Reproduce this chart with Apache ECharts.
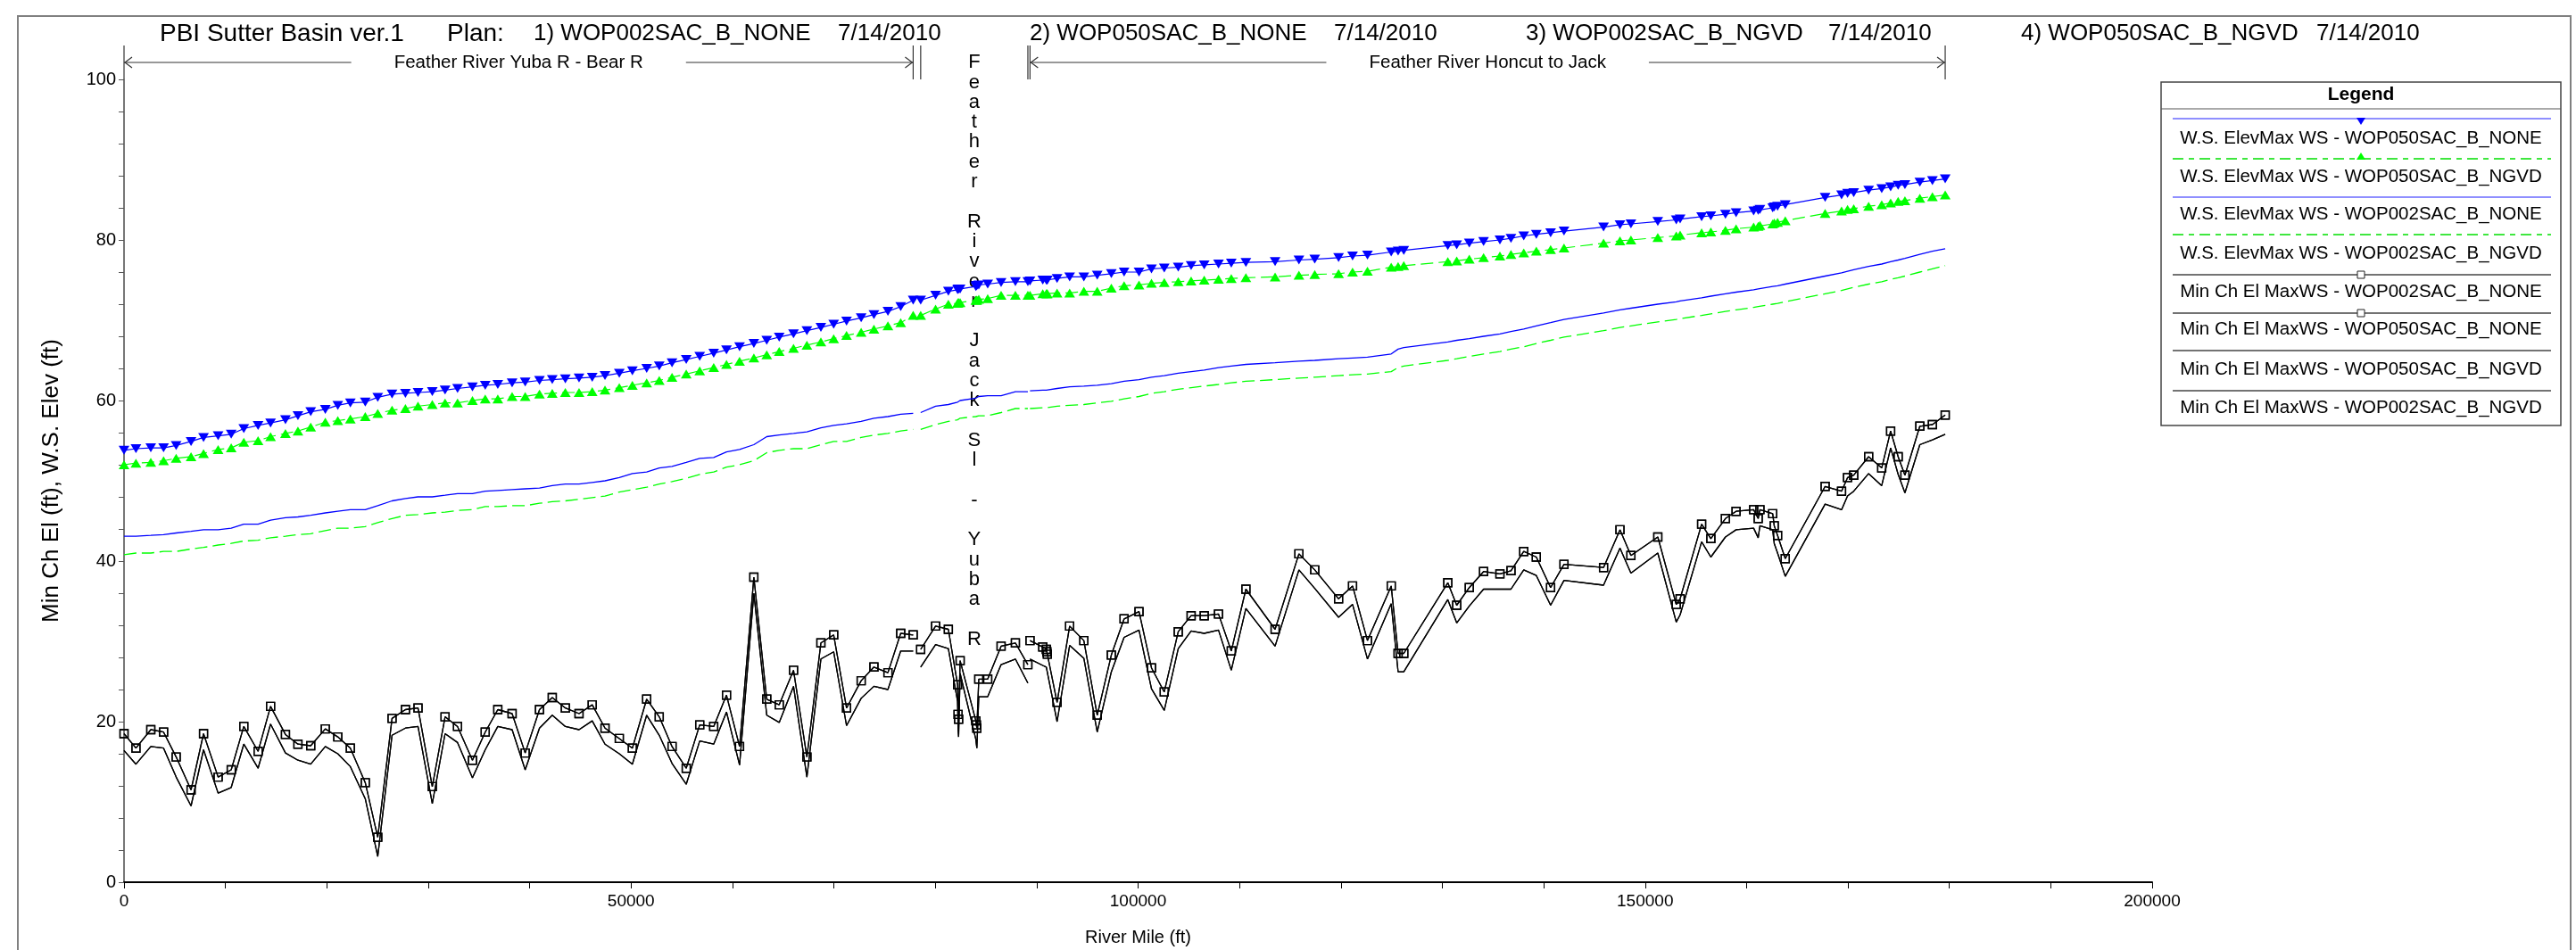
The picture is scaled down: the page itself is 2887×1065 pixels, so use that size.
<!DOCTYPE html>
<html>
<head>
<meta charset="utf-8">
<script src="https://cdn.jsdelivr.net/npm/echarts@6/dist/echarts.min.js"></script>
<style>
  html, body { margin: 0; padding: 0; background: #fff; }
  #chart { width: 2887px; height: 1065px; }
</style>
</head>
<body>
<div id="chart"></div>
<script>
// ---------------------------------------------------------------------------
// Cross-section stations (River Mile, ft), one array per reach
// ---------------------------------------------------------------------------
const stationsYubaBear = [0, 1175, 2640, 3900, 5140, 6610, 7840, 9280, 10570, 11810,
  13220, 14450, 15920, 17150, 18410, 19850, 21080, 22320, 23790, 25020,
  26430, 27750, 28990, 30400, 31660, 32890, 34360, 35620, 36860, 38270,
  39560, 40970, 42230, 43520, 44870, 46170, 47430, 48840, 50130, 51540,
  52780, 54040, 55440, 56770, 58150, 59410, 60700, 62110, 63380, 64610,
  66020, 67340, 68720, 69980, 71250, 72690, 73950, 75330, 76590, 77820];
const stationsJackYuba = [78560, 80030, 81290, 82200, 82250, 82300, 82450, 84000, 84050, 84100,
  84290, 85170, 86490, 87900, 89130];
const stationsHoncutJack = [89340, 90600, 90950, 91000, 91050, 92010, 93250, 94650, 95970, 97360,
  98620, 100090, 101320, 102580, 103960, 105230, 106520, 107930, 109190, 110630,
  113510, 115860, 117420, 119770, 121150, 122620, 124960, 125640, 126200, 130540,
  131420, 132660, 134070, 135680, 136770, 138030, 139270, 140680, 142000, 145900,
  147520, 148600, 151250, 153070, 153450, 155570, 156480, 157920, 158970, 160700,
  161150, 161320, 162580, 162730, 163060, 163820, 167750, 169370, 169960, 170570,
  172040, 173330, 174210, 174950, 175620, 177090, 178330, 179590];

const reachNames = ['Feather River Yuba R - Bear R', 'Feather River Jack Sl - Yuba R', 'Feather River Honcut to Jack'];

// ---------------------------------------------------------------------------
// Profile values (ft), stations of all three reaches in order
// ---------------------------------------------------------------------------
const wsMax050None = [
  53.8, 54.0, 54.1, 54.1, 54.4, 54.9, 55.4, 55.6, 55.8, 56.5,
  56.9, 57.2, 57.6, 58.1, 58.6, 58.9, 59.4, 59.7, 59.8, 60.4,
  60.8, 60.9, 61.0, 61.1, 61.3, 61.5, 61.7, 61.9, 62.0, 62.2,
  62.3, 62.5, 62.6, 62.7, 62.8, 62.9, 63.1, 63.4, 63.7, 64.0,
  64.3, 64.7, 65.1, 65.5, 65.9, 66.3, 66.7, 67.1, 67.5, 67.9,
  68.3, 68.7, 69.1, 69.5, 69.9, 70.3, 70.7, 71.1, 71.7, 72.5,
  72.5, 73.1, 73.6, 73.8, 73.9, 73.9, 73.9, 74.2, 74.3, 74.3, 74.4, 74.5, 74.7, 74.8, 74.8,
  74.9, 75.0, 75.0, 75.0, 75.0, 75.2, 75.4, 75.4, 75.6, 75.8,
  76.0, 76.0, 76.4, 76.5, 76.6, 76.8, 76.9, 77.0, 77.1, 77.2,
  77.3, 77.5, 77.6, 77.8, 78.0, 78.1, 78.5, 78.6, 78.7, 79.3,
  79.4, 79.6, 79.8, 80.0, 80.2, 80.5, 80.7, 80.9, 81.1, 81.6,
  81.9, 82.0, 82.3, 82.5, 82.6, 82.9, 83.0, 83.2, 83.4, 83.6,
  83.7, 83.8, 84.0, 84.1, 84.2, 84.4, 85.3, 85.6, 85.8, 85.9,
  86.2, 86.4, 86.6, 86.8, 86.9, 87.2, 87.4, 87.6];

const wsMax050Ngvd = [
  52.0, 52.2, 52.3, 52.5, 52.8, 53.0, 53.4, 53.9, 54.1, 54.8,
  55.0, 55.5, 55.9, 56.2, 56.7, 57.3, 57.5, 57.7, 58.0, 58.4,
  58.8, 59.0, 59.3, 59.5, 59.7, 59.7, 60.0, 60.2, 60.2, 60.5,
  60.5, 60.8, 60.9, 61.0, 61.0, 61.1, 61.3, 61.6, 61.9, 62.2,
  62.5, 62.9, 63.3, 63.7, 64.1, 64.5, 64.9, 65.3, 65.7, 66.1,
  66.5, 66.9, 67.3, 67.7, 68.1, 68.5, 68.9, 69.3, 69.7, 70.6,
  70.6, 71.4, 72.0, 72.1, 72.2, 72.2, 72.2, 72.5, 72.5, 72.5, 72.6, 72.7, 73.1, 73.1, 73.1,
  73.1, 73.3, 73.3, 73.3, 73.3, 73.4, 73.4, 73.6, 73.6, 74.0,
  74.3, 74.4, 74.6, 74.7, 74.8, 74.9, 75.0, 75.1, 75.2, 75.3,
  75.4, 75.6, 75.7, 75.8, 76.0, 76.1, 76.6, 76.7, 76.8, 77.3,
  77.4, 77.6, 77.8, 78.0, 78.2, 78.4, 78.6, 78.8, 79.0, 79.6,
  79.9, 80.0, 80.3, 80.5, 80.6, 80.9, 81.0, 81.2, 81.4, 81.6,
  81.7, 81.8, 82.0, 82.1, 82.2, 82.4, 83.3, 83.6, 83.8, 83.9,
  84.2, 84.4, 84.6, 84.8, 84.9, 85.2, 85.4, 85.6];

const wsMax002None = [
  43.1, 43.1, 43.2, 43.3, 43.5, 43.7, 43.9, 43.9, 44.1, 44.6,
  44.6, 45.1, 45.4, 45.5, 45.7, 46.0, 46.2, 46.4, 46.4, 46.9,
  47.5, 47.8, 48.0, 48.0, 48.2, 48.4, 48.4, 48.7, 48.8, 48.9,
  49.0, 49.1, 49.4, 49.6, 49.6, 49.8, 50.0, 50.4, 50.9, 51.1,
  51.6, 51.8, 52.3, 52.8, 52.9, 53.6, 53.9, 54.5, 55.5, 55.7,
  55.9, 56.1, 56.6, 56.9, 57.1, 57.4, 57.8, 58.0, 58.3, 58.4,
  58.5, 59.3, 59.5, 59.8, 59.9, 59.9, 60.0, 60.3, 60.4, 60.4, 60.5, 60.6, 60.6, 61.1, 61.1,
  61.2, 61.3, 61.3, 61.3, 61.3, 61.5, 61.7, 61.8, 61.9, 62.1,
  62.4, 62.6, 62.9, 63.1, 63.4, 63.6, 63.8, 64.1, 64.3, 64.5,
  64.7, 64.9, 65.0, 65.2, 65.3, 65.4, 65.8, 66.4, 66.6, 67.3,
  67.5, 67.7, 68.0, 68.3, 68.6, 68.9, 69.3, 69.7, 70.1, 70.9,
  71.3, 71.5, 72.0, 72.3, 72.4, 72.8, 73.0, 73.3, 73.5, 73.8,
  73.9, 73.9, 74.2, 74.2, 74.3, 74.5, 75.5, 75.9, 76.1, 76.3,
  76.7, 77.0, 77.3, 77.5, 77.7, 78.2, 78.6, 78.9];

const wsMax002Ngvd = [
  40.8, 41.0, 41.0, 41.2, 41.2, 41.5, 41.7, 42.0, 42.2, 42.5,
  42.6, 42.9, 43.1, 43.3, 43.4, 43.8, 44.1, 44.1, 44.3, 44.8,
  45.3, 45.7, 45.8, 46.0, 46.1, 46.3, 46.4, 46.8, 46.8, 46.9,
  46.9, 47.2, 47.4, 47.5, 47.7, 47.9, 48.1, 48.6, 48.9, 49.2,
  49.6, 49.9, 50.3, 50.8, 51.1, 51.7, 52.0, 52.5, 53.5, 53.8,
  54.0, 54.0, 54.5, 54.9, 54.9, 55.4, 55.7, 55.9, 56.2, 56.4,
  56.4, 57.0, 57.4, 57.6, 57.7, 57.7, 57.8, 58.0, 58.0, 58.0, 58.1, 58.1, 58.5, 59.0, 59.0,
  59.0, 59.1, 59.1, 59.1, 59.1, 59.3, 59.4, 59.5, 59.7, 59.9,
  60.2, 60.5, 60.9, 61.1, 61.4, 61.6, 61.8, 62.0, 62.2, 62.4,
  62.6, 62.8, 62.9, 63.1, 63.2, 63.3, 63.6, 64.1, 64.3, 65.0,
  65.2, 65.5, 65.8, 66.1, 66.4, 66.7, 67.1, 67.5, 67.9, 68.7,
  69.1, 69.3, 69.8, 70.1, 70.2, 70.6, 70.8, 71.1, 71.3, 71.6,
  71.7, 71.7, 72.0, 72.0, 72.1, 72.3, 73.3, 73.7, 73.9, 74.1,
  74.5, 74.8, 75.1, 75.3, 75.5, 76.0, 76.4, 76.8];

const minChElNone = [
  18.5, 16.7, 19.0, 18.7, 15.6, 11.5, 18.5, 13.1, 14.0, 19.4,
  16.3, 21.9, 18.4, 17.2, 17.0, 19.1, 18.1, 16.7, 12.4, 5.6,
  20.4, 21.5, 21.7, 11.9, 20.6, 19.4, 15.2, 18.7, 21.5, 21.0,
  16.1, 21.5, 23.0, 21.7, 21.0, 22.1, 19.2, 17.9, 16.7, 22.8,
  20.6, 16.9, 14.2, 19.6, 19.4, 23.3, 16.9, 38.0, 22.8, 22.1,
  26.4, 15.6, 29.8, 30.8, 21.7, 25.1, 26.8, 26.1, 31.0, 30.8,
  29.0, 31.9, 31.5, 24.6, 20.9, 20.3, 27.6, 20.1, 19.6, 19.2, 25.3, 25.3, 29.4, 29.8, 27.1,
  30.1, 29.3, 29.0, 28.7, 28.4, 22.4, 31.9, 30.1, 20.8, 28.3,
  32.8, 33.7, 26.7, 23.7, 31.2, 33.2, 33.2, 33.4, 28.8, 36.5,
  31.5, 40.9, 38.9, 35.3, 36.9, 30.1, 36.9, 28.5, 28.5, 37.3,
  34.5, 36.7, 38.7, 38.4, 38.8, 41.2, 40.5, 36.7, 39.6, 39.2,
  43.9, 40.7, 43.0, 34.6, 35.3, 44.6, 42.8, 45.3, 46.2, 46.4,
  45.3, 46.4, 45.9, 44.4, 43.2, 40.3, 49.3, 48.7, 50.4, 50.7,
  53.0, 51.6, 56.2, 53.0, 50.7, 56.8, 57.0, 58.2];

const minChElNgvd = [
  16.4, 14.7, 16.9, 16.7, 13.1, 9.5, 16.5, 11.1, 11.8, 17.2,
  14.2, 19.7, 16.1, 15.2, 14.7, 16.9, 16.0, 14.4, 10.4, 3.2,
  18.3, 19.2, 19.4, 9.8, 18.5, 17.4, 13.0, 16.5, 19.4, 19.0,
  14.0, 19.2, 20.8, 19.4, 19.0, 20.1, 17.2, 16.0, 14.7, 20.8,
  18.3, 14.8, 12.2, 17.6, 17.2, 21.2, 14.6, 36.0, 20.8, 19.9,
  24.4, 13.1, 27.8, 28.7, 19.5, 22.9, 24.4, 24.0, 28.8, 28.8,
  26.8, 29.6, 29.1, 22.5, 19.0, 18.1, 26.0, 17.8, 17.2, 16.7, 23.1, 23.1, 27.1, 27.8, 24.8,
  27.8, 27.0, 26.8, 26.7, 26.6, 20.0, 29.5, 27.9, 18.7, 26.2,
  30.5, 31.4, 24.1, 21.4, 29.1, 31.3, 31.0, 31.4, 26.4, 34.1,
  29.4, 38.9, 36.6, 33.0, 34.6, 27.8, 34.7, 26.2, 26.2, 35.2,
  32.3, 34.4, 36.5, 36.5, 36.5, 38.9, 38.2, 34.5, 37.6, 37.0,
  41.6, 38.5, 41.0, 32.4, 33.3, 42.4, 40.5, 43.0, 43.9, 44.1,
  42.9, 44.4, 43.9, 42.2, 41.0, 38.1, 47.1, 46.4, 48.1, 48.7,
  50.9, 49.4, 54.1, 50.8, 48.5, 54.5, 55.1, 55.8];

// Axis tick values
const xTickValues = [0, 50000, 100000, 150000, 200000];
const yTickValues = [0, 20, 40, 60, 80, 100];

// Header line pieces
const headerParts = ['PBI Sutter Basin ver.1', 'Plan:', '1) WOP002SAC_B_NONE', '7/14/2010',
  '2) WOP050SAC_B_NONE', '7/14/2010', '3) WOP002SAC_B_NGVD', '7/14/2010',
  '4) WOP050SAC_B_NGVD', '7/14/2010'];

const legendLabels = [
  'W.S. ElevMax WS - WOP050SAC_B_NONE',
  'W.S. ElevMax WS - WOP050SAC_B_NGVD',
  'W.S. ElevMax WS - WOP002SAC_B_NONE',
  'W.S. ElevMax WS - WOP002SAC_B_NGVD',
  'Min Ch El MaxWS - WOP002SAC_B_NONE',
  'Min Ch El MaxWS - WOP050SAC_B_NONE',
  'Min Ch El MaxWS - WOP050SAC_B_NGVD',
  'Min Ch El MaxWS - WOP002SAC_B_NGVD'];

// ---------------------------------------------------------------------------
const FONT = '"Liberation Sans", Arial, sans-serif';
const reachStations = [stationsYubaBear, stationsJackYuba, stationsHoncutJack];

// Pair stations with values; a blank point separates consecutive reaches
function profile(values) {
  const out = [];
  let k = 0;
  reachStations.forEach((st, r) => {
    if (r > 0) out.push([(reachStations[r - 1][reachStations[r - 1].length - 1] + st[0]) / 2, null]);
    st.forEach(x => out.push([x, values[k++]]));
  });
  return out;
}

const BLUE = '#0000ff', GREEN = '#00ff00', BLACK = '#000000';
const dash = [14, 6];

function lineSeries(name, values, style) {
  return Object.assign({
    name: name,
    type: 'line',
    data: profile(values),
    connectNulls: false,
    showAllSymbol: true,
    animation: false,
    silent: true,
    emphasis: { disabled: true }
  }, style);
}

const series = [
  lineSeries(legendLabels[0], wsMax050None, {
    symbol: 'triangle', symbolRotate: 180, symbolSize: [12, 10],
    itemStyle: { color: BLUE }, lineStyle: { color: BLUE, width: 1.2 }
  }),
  lineSeries(legendLabels[1], wsMax050Ngvd, {
    symbol: 'triangle', symbolSize: [12, 10],
    itemStyle: { color: GREEN }, lineStyle: { color: GREEN, width: 1.2, type: dash }
  }),
  lineSeries(legendLabels[2], wsMax002None, {
    symbol: 'none', lineStyle: { color: BLUE, width: 1.3 }
  }),
  lineSeries(legendLabels[3], wsMax002Ngvd, {
    symbol: 'none', lineStyle: { color: GREEN, width: 1.3, type: dash }
  }),
  lineSeries(legendLabels[4], minChElNone, {
    symbol: 'rect', symbolSize: 9,
    itemStyle: { color: 'rgba(255,255,255,0)', borderColor: BLACK, borderWidth: 1.4 },
    lineStyle: { color: BLACK, width: 1.3 }
  }),
  lineSeries(legendLabels[5], minChElNone, {
    symbol: 'rect', symbolSize: 9,
    itemStyle: { color: 'rgba(255,255,255,0)', borderColor: BLACK, borderWidth: 1.4 },
    lineStyle: { color: BLACK, width: 1.3 }
  }),
  lineSeries(legendLabels[6], minChElNgvd, {
    symbol: 'none', lineStyle: { color: BLACK, width: 1.3 }
  }),
  lineSeries(legendLabels[7], minChElNgvd, {
    symbol: 'none', lineStyle: { color: BLACK, width: 1.3 }
  })
];

const chart = echarts.init(document.getElementById('chart'), null, { renderer: 'canvas' });

chart.setOption({
  backgroundColor: '#ffffff',
  animation: false,
  textStyle: { fontFamily: FONT },
  grid: { left: 139, right: 475, top: 89, bottom: 76, containLabel: false, outerBoundsMode: 'none' },
  xAxis: {
    type: 'value',
    min: xTickValues[0], max: xTickValues[xTickValues.length - 1],
    interval: xTickValues[1] - xTickValues[0],
    name: 'River Mile (ft)', nameLocation: 'middle', nameGap: 52,
    nameTextStyle: { fontSize: 20, color: '#000', fontFamily: FONT },
    axisLine: { show: true, lineStyle: { color: '#000', width: 2 } },
    axisTick: { show: true, length: 7, lineStyle: { color: '#000', width: 1 } },
    minorTick: { show: true, splitNumber: 5, length: 7, lineStyle: { color: '#000', width: 1 } },
    axisLabel: { fontSize: 19, color: '#000', margin: 12, fontFamily: FONT,
      formatter: v => xTickValues.includes(v) ? String(v) : '' },
    splitLine: { show: false }, minorSplitLine: { show: false }
  },
  yAxis: {
    type: 'value',
    min: yTickValues[0], max: yTickValues[yTickValues.length - 1],
    interval: yTickValues[1] - yTickValues[0],
    name: 'Min Ch El (ft), W.S. Elev (ft)', nameLocation: 'middle', nameGap: 68, nameRotate: 90,
    nameTextStyle: { fontSize: 26, color: '#000', fontFamily: FONT },
    axisLine: { show: true, lineStyle: { color: '#777', width: 2 } },
    axisTick: { show: true, length: 6, lineStyle: { color: '#555', width: 1 } },
    minorTick: { show: true, splitNumber: 5, length: 6, lineStyle: { color: '#555', width: 1 } },
    axisLabel: { fontSize: 20, color: '#000', margin: 9, fontFamily: FONT,
      formatter: v => yTickValues.includes(v) ? String(v) : '' },
    splitLine: { show: false }, minorSplitLine: { show: false }
  },
  series: series
});

// ---------------------------------------------------------------------------
// Decorations: frame, header, reach annotations, legend box
// ---------------------------------------------------------------------------
const px = v => chart.convertToPixel({ xAxisIndex: 0 }, v);
const graphics = [];

graphics.push({ type: 'rect', silent: true, z: 0,
  shape: { x: 20, y: 18, width: 2861, height: 1100 },
  style: { fill: null, stroke: '#808080', lineWidth: 2 } });

const headerX = [179, 501, 598, 939, 1154, 1495, 1710, 2049, 2265, 2596];
const headerSize = [28, 28, 26, 26, 26, 26, 26, 26, 26, 26];
headerParts.forEach((t, i) => graphics.push({ type: 'text', silent: true, x: headerX[i], y: 38,
  style: { text: t, font: headerSize[i] + 'px ' + FONT, fill: '#000', align: 'left', verticalAlign: 'middle' } }));

// reach markers
const barTop = 51, barBot = 89, arrowY = 70;
reachStations.forEach((st, r) => {
  const x0 = px(st[0]), x1 = px(st[st.length - 1]);
  [x0, x1].forEach(x => graphics.push({ type: 'line', silent: true,
    shape: { x1: x, y1: barTop, x2: x, y2: barBot }, style: { stroke: '#333', lineWidth: 1.2 } }));
  if (r === 1) {
    graphics.push({ type: 'text', silent: true, x: (x0 + x1) / 2, y: 59,
      style: { text: reachNames[r].split('').join('\n'), font: '22px ' + FONT, lineHeight: 22.3,
        fill: '#000', align: 'center', verticalAlign: 'top' } });
  } else {
    graphics.push({ type: 'line', silent: true,
      shape: { x1: x0, y1: arrowY, x2: x1, y2: arrowY }, style: { stroke: '#333', lineWidth: 1.2 } });
    graphics.push({ type: 'polyline', silent: true,
      shape: { points: [[x0 + 9, arrowY - 6], [x0 + 1, arrowY], [x0 + 9, arrowY + 6]] },
      style: { stroke: '#333', lineWidth: 1.2, fill: null } });
    graphics.push({ type: 'polyline', silent: true,
      shape: { points: [[x1 - 9, arrowY - 6], [x1 - 1, arrowY], [x1 - 9, arrowY + 6]] },
      style: { stroke: '#333', lineWidth: 1.2, fill: null } });
    graphics.push({ type: 'text', silent: true, x: (x0 + x1) / 2, y: arrowY,
      style: { text: reachNames[r], font: '20.5px ' + FONT, fill: '#000', align: 'center',
        verticalAlign: 'middle', backgroundColor: '#fff', padding: [3, 48] } });
  }
});

// legend box
const LG = { left: 2422, right: 2870, top: 92, bottom: 477, head: 122 };
const rowLineY = [133, 178, 221, 263, 308, 351, 393, 438];
const rowTextY = [155, 198, 240, 284, 327, 369, 414, 457];
const lgCx = (LG.left + LG.right) / 2;
graphics.push({ type: 'rect', silent: true,
  shape: { x: LG.left, y: LG.top, width: LG.right - LG.left, height: LG.bottom - LG.top },
  style: { fill: '#fff', stroke: '#444', lineWidth: 1.5 } });
graphics.push({ type: 'line', silent: true,
  shape: { x1: LG.left, y1: LG.head, x2: LG.right, y2: LG.head }, style: { stroke: '#555', lineWidth: 1.2 } });
graphics.push({ type: 'text', silent: true, x: lgCx, y: 106,
  style: { text: 'Legend', font: 'bold 21px ' + FONT, fill: '#000', align: 'center', verticalAlign: 'middle' } });

const legendStroke = ['#6a6aff', '#00e000', '#6a6aff', '#00e000', '#444', '#444', '#444', '#444'];
const legendDash = [null, [12, 6, 6, 6], null, [12, 6, 6, 6], null, null, null, null];
legendLabels.forEach((label, i) => {
  const y = rowLineY[i];
  graphics.push({ type: 'line', silent: true,
    shape: { x1: LG.left + 13, y1: y, x2: LG.right - 11, y2: y },
    style: { stroke: legendStroke[i], lineWidth: 1.6, lineDash: legendDash[i] } });
  if (i === 0) {
    graphics.push({ type: 'polygon', silent: true,
      shape: { points: [[lgCx - 5, y - 1], [lgCx + 5, y - 1], [lgCx, y + 7]] }, style: { fill: BLUE } });
  } else if (i === 1) {
    graphics.push({ type: 'polygon', silent: true,
      shape: { points: [[lgCx - 5, y + 1], [lgCx + 5, y + 1], [lgCx, y - 7]] }, style: { fill: GREEN } });
  } else if (i === 4 || i === 5) {
    graphics.push({ type: 'rect', silent: true,
      shape: { x: lgCx - 4, y: y - 4, width: 8, height: 8 },
      style: { fill: '#fff', stroke: '#222', lineWidth: 1 } });
  }
  graphics.push({ type: 'text', silent: true, x: lgCx, y: rowTextY[i],
    style: { text: label, font: '20.5px ' + FONT, fill: '#000', align: 'center', verticalAlign: 'middle' } });
});

chart.setOption({ graphic: { elements: graphics } });
</script>
</body>
</html>
